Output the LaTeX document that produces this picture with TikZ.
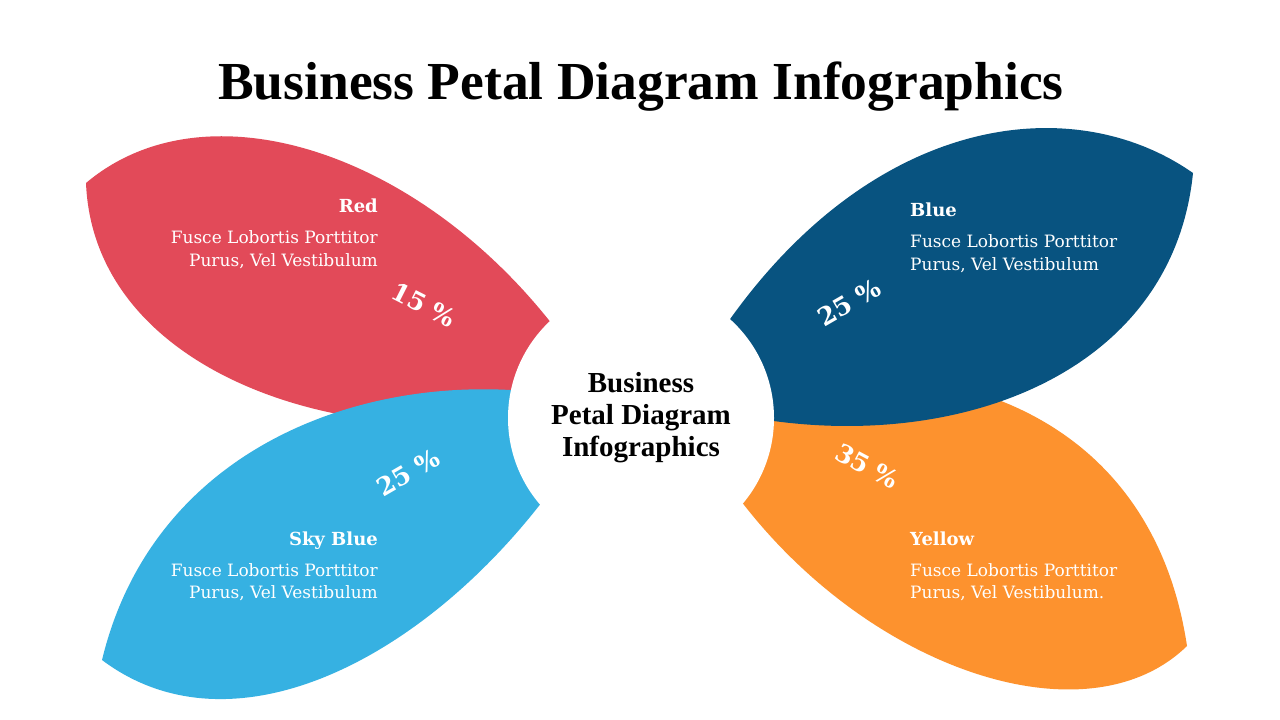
\documentclass[tikz,border=0pt]{standalone}
\usepackage{fontspec}
\setmainfont{DejaVu Serif}
\newfontfamily\headfont{Liberation Serif}
\definecolor{pred}{RGB}{226,74,89}
\definecolor{psky}{RGB}{54,177,226}
\definecolor{pblue}{RGB}{8,83,128}
\definecolor{porange}{RGB}{253,146,46}
\tikzset{
  headtxt/.style={font=\headfont\bfseries\fontsize{53.5}{60}\selectfont, text=black, inner sep=0},
  centertxt/.style={font=\headfont\bfseries\fontsize{29}{32}\selectfont, text=black, align=center},
  lbl/.style={font=\bfseries\fontsize{18}{20}\selectfont, text=white, inner sep=0},
  bodytxt/.style={font=\fontsize{17}{23}\selectfont, text=white, inner sep=0},
  pct/.style={font=\bfseries\fontsize{25}{30}\selectfont, text=white, inner sep=0}
}
\begin{document}
\begin{tikzpicture}[x=1pt,y=-1pt]
\useasboundingbox (0,0) rectangle (1280,720);
\fill[white] (0,0) rectangle (1280,720);
% petals
\fill[pred] (86,183) .. controls (220,70) and (470,170) .. (600,395) .. controls (420,470) and (95,400) .. (86,183) -- cycle;
\fill[psky] (102,660) .. controls (160,420) and (420,355) .. (605,405) .. controls (490,620) and (255,775) .. (102,660) -- cycle;
\fill[porange] (1187,646) .. controls (1150,400) and (920,330) .. (680,400) .. controls (790,640) and (1070,760) .. (1187,646) -- cycle;
\fill[pblue] (1193,173) .. controls (1060,80) and (830,120) .. (680,400) .. controls (900,470) and (1170,400) .. (1193,173) -- cycle;
% centre
\node[circle, fill=white, minimum size=266pt, inner sep=0] (hub) at (641,418) {};
\node[centertxt] (hubtxt) at (641,418) {Business\\Petal Diagram\\Infographics};
% title
\node[headtxt] (title) at (641,87) {Business Petal Diagram Infographics};
% red
\node[lbl, anchor=base east] (redt) at (378,212) {Red};
\node[bodytxt, anchor=base east] (redb1) at (378,243) {Fusce Lobortis Porttitor};
\node[bodytxt, anchor=base east] (redb2) at (378,266) {Purus, Vel Vestibulum};
\node[pct, rotate=-27] (redp) at (424,305) {15 \%};
% blue
\node[lbl, anchor=base west] (bluet) at (910,216) {Blue};
\node[bodytxt, anchor=base west] (blueb1) at (910,247) {Fusce Lobortis Porttitor};
\node[bodytxt, anchor=base west] (blueb2) at (910,270) {Purus, Vel Vestibulum};
\node[pct, rotate=30] (bluep) at (849,303) {25 \%};
% sky blue
\node[lbl, anchor=base east] (skyt) at (378,545) {Sky Blue};
\node[bodytxt, anchor=base east] (skyb1) at (378,576) {Fusce Lobortis Porttitor};
\node[bodytxt, anchor=base east] (skyb2) at (378,598) {Purus, Vel Vestibulum};
\node[pct, rotate=30] (skyp) at (408,473) {25 \%};
% yellow
\node[lbl, anchor=base west] (yelt) at (910,545) {Yellow};
\node[bodytxt, anchor=base west] (yelb1) at (910,576) {Fusce Lobortis Porttitor};
\node[bodytxt, anchor=base west] (yelb2) at (910,598) {Purus, Vel Vestibulum.};
\node[pct, rotate=-28] (yelp) at (867,466) {35 \%};
\end{tikzpicture}
\end{document}
